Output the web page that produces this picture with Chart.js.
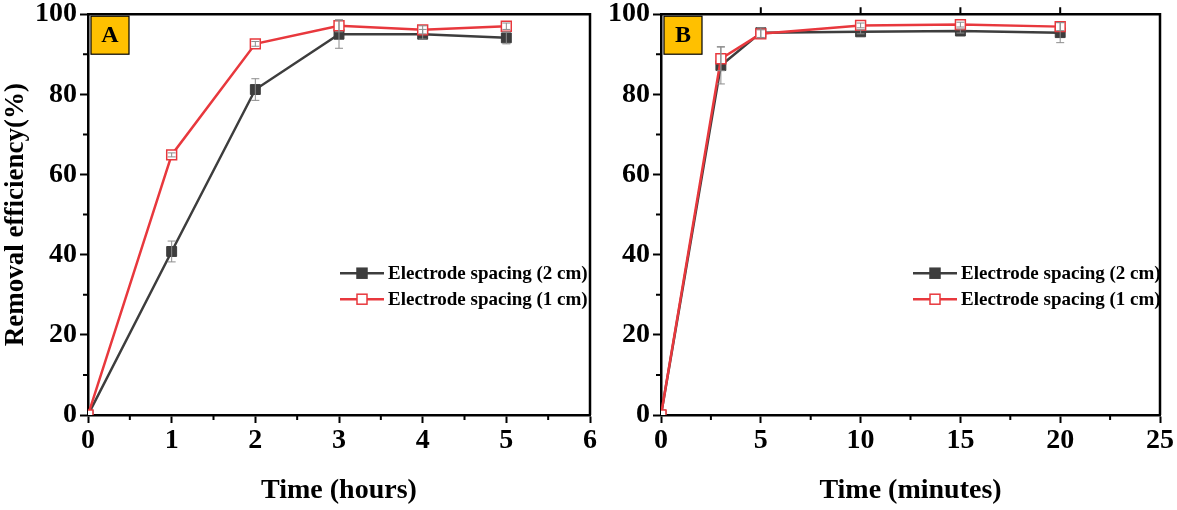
<!DOCTYPE html>
<html>
<head>
<meta charset="utf-8">
<script src="https://cdn.jsdelivr.net/npm/chart.js@4.4.0/dist/chart.umd.min.js"></script>
<style>
  html, body { margin: 0; padding: 0; background: #fff; }
  #wrap { position: relative; width: 1177px; height: 510px; overflow: hidden; }
  .panel { position: absolute; top: 0; height: 510px; }
</style>
</head>
<body>
<div id="wrap">
  <div class="panel" style="left:0;width:604px"><canvas id="chartA"></canvas></div>
  <div class="panel" style="left:592px;width:589px"><canvas id="chartB"></canvas></div>
</div>
<script>
// Panel A: time in hours
const hoursA = [0, 1, 2, 3, 4, 5];
const spacing2cmA = [0, 40.8, 81.2, 95.0, 95.0, 94.1];
const spacing2cmErrA = [0, 2.6, 2.7, 3.5, 1.2, 1.5];
const spacing1cmA = [0, 64.9, 92.6, 97.1, 96.1, 97.0];
const spacing1cmErrA = [0, 0.5, 0.6, 1.5, 1.0, 0.8];

// Panel B: time in minutes
const minutesB = [0, 3, 5, 10, 15, 20];
const spacing2cmB = [0, 87.2, 95.4, 95.6, 95.8, 95.4];
const spacing2cmErrB = [0, 4.6, 1.2, 0.5, 0.5, 2.5];
const spacing1cmB = [0, 88.9, 95.1, 97.2, 97.4, 96.9];
const spacing1cmErrB = [0, 3.0, 1.0, 0.6, 0.6, 1.0];

const seriesLabels = ["Electrode spacing (2 cm)", "Electrode spacing (1 cm)"];
const yTicks = [0, 20, 40, 60, 80, 100];
const yMinorTicks = [10, 30, 50, 70, 90];

const DARK = "#3d3d3d";
const RED = "#e8383d";
const SERIF = "'Liberation Serif', 'DejaVu Serif', serif";

function toPoints(xs, ys) {
  return xs.map((x, i) => ({ x: x, y: ys[i] }));
}

// frame, minor ticks, panel letter, legend and error bars
const panelDecor = {
  id: "panelDecor",
  afterDatasetsDraw(chart, args, opts) {
    const ctx = chart.ctx;
    const xs = chart.scales.x;
    ctx.save();
    ctx.strokeStyle = "#8c8c8c";
    ctx.lineWidth = 1;
    chart.data.datasets.forEach((ds) => {
      ds.data.forEach((p, i) => {
        const e = ds.errors[i];
        if (!e) return;
        const px = xs.getPixelForValue(p.x);
        const y1 = chart.scales.y.getPixelForValue(p.y + e);
        const y2 = chart.scales.y.getPixelForValue(p.y - e);
        ctx.beginPath();
        ctx.moveTo(px, y1); ctx.lineTo(px, y2);
        ctx.moveTo(px - 4, y1); ctx.lineTo(px + 4, y1);
        ctx.moveTo(px - 4, y2); ctx.lineTo(px + 4, y2);
        ctx.stroke();
      });
    });
    ctx.restore();
  },
  afterDraw(chart, args, opts) {
    const ctx = chart.ctx;
    const a = chart.chartArea;
    const xs = chart.scales.x;
    const ys = chart.scales.y;
    ctx.save();
    ctx.strokeStyle = "#000";
    ctx.lineWidth = 2.5;
    ctx.beginPath();
    ctx.moveTo(a.left, a.top); ctx.lineTo(a.right, a.top); ctx.lineTo(a.right, a.bottom);
    ctx.stroke();

    // minor ticks
    ctx.lineWidth = 2;
    ctx.beginPath();
    opts.xMinor.forEach((v) => {
      const px = xs.getPixelForValue(v);
      ctx.moveTo(px, a.bottom); ctx.lineTo(px, a.bottom + 5);
    });
    yMinorTicks.forEach((v) => {
      const py = ys.getPixelForValue(v);
      ctx.moveTo(a.left, py); ctx.lineTo(a.left - 5, py);
    });
    (opts.topTicks || []).forEach((v) => {
      const px = xs.getPixelForValue(v);
      ctx.moveTo(px, a.top); ctx.lineTo(px, a.top - 7);
    });
    ctx.stroke();

    // panel letter
    ctx.fillStyle = "#ffc000";
    ctx.fillRect(a.left + 3, a.top + 2, 38, 38);
    ctx.lineWidth = 1.2;
    ctx.strokeRect(a.left + 3, a.top + 2, 38, 38);
    ctx.fillStyle = "#000";
    ctx.font = "bold 24px " + SERIF;
    ctx.textAlign = "center";
    ctx.textBaseline = "middle";
    ctx.fillText(opts.letter, a.left + 22, a.top + 22);

    // legend
    ctx.font = "bold 19px " + SERIF;
    ctx.textAlign = "left";
    chart.data.datasets.forEach((ds, i) => {
      const lx = a.left + 252;
      const ly = a.top + 259 + i * 26;
      ctx.strokeStyle = ds.borderColor;
      ctx.lineWidth = 2.5;
      ctx.beginPath();
      ctx.moveTo(lx, ly); ctx.lineTo(lx + 44, ly);
      ctx.stroke();
      ctx.fillStyle = ds.pointBackgroundColor;
      ctx.fillRect(lx + 17, ly - 5, 10, 10);
      ctx.lineWidth = 1.5;
      ctx.strokeRect(lx + 17, ly - 5, 10, 10);
      ctx.fillStyle = "#000";
      ctx.fillText(seriesLabels[i], lx + 48, ly + 1);
    });
    ctx.restore();
  },
};

function makePanel(canvasId, opts) {
  const ctx = document.getElementById(canvasId);
  return new Chart(ctx, {
    type: "line",
    data: {
      datasets: [
        {
          label: seriesLabels[0],
          data: toPoints(opts.xs, opts.s2),
          errors: opts.e2,
          borderColor: DARK,
          pointBackgroundColor: DARK,
          pointBorderColor: DARK,
          borderWidth: 2.5,
          pointStyle: "rect",
          pointRadius: 7,
          pointBorderWidth: 1,
          order: 2,
        },
        {
          label: seriesLabels[1],
          data: toPoints(opts.xs, opts.s1),
          errors: opts.e1,
          borderColor: RED,
          pointBackgroundColor: "#fff",
          pointBorderColor: RED,
          borderWidth: 2.5,
          pointStyle: "rect",
          pointRadius: 7,
          pointBorderWidth: 1.5,
          order: 1,
        },
      ],
    },
    options: {
      responsive: true,
      maintainAspectRatio: false,
      animation: false,
      layout: { padding: { top: 13, right: opts.padRight, left: 0, bottom: 0 } },
      plugins: {
        legend: { display: false },
        tooltip: { enabled: false },
        panelDecor: { letter: opts.letter, xMinor: opts.xMinor, topTicks: opts.topTicks },
      },
      scales: {
        x: {
          type: "linear",
          min: 0,
          max: opts.xMax,
          afterBuildTicks: (s) => { s.ticks = opts.xTicks.map((v) => ({ value: v })); },
          afterFit: (s) => { s.height = 95; },
          ticks: { color: "#000", padding: 7, font: { family: SERIF, size: 28, weight: "bold", lineHeight: 0.8 } },
          grid: { drawOnChartArea: false, drawTicks: true, tickLength: 8, tickWidth: 2, tickColor: "#000" },
          border: { color: "#000", width: 2.5 },
          title: {
            display: true,
            text: opts.xTitle,
            color: "#000",
            padding: { top: 0, bottom: 2 },
            font: { family: SERIF, size: 28, weight: "bold" },
          },
        },
        y: {
          min: 0,
          max: 100,
          afterBuildTicks: (s) => { s.ticks = yTicks.map((v) => ({ value: v })); },
          afterFit: (s) => { s.width = opts.yWidth; },
          ticks: { color: "#000", padding: 3, font: { family: SERIF, size: 28, weight: "bold", lineHeight: 0.8 } },
          grid: { drawOnChartArea: false, drawTicks: true, tickLength: 8, tickWidth: 2, tickColor: "#000" },
          border: { color: "#000", width: 2.5 },
          title: {
            display: !!opts.yTitle,
            text: opts.yTitle || "",
            color: "#000",
            padding: { top: 0, bottom: 0 },
            font: { family: SERIF, size: 27, weight: "bold" },
          },
        },
      },
    },
    plugins: [panelDecor],
  });
}

makePanel("chartA", {
  letter: "A",
  xs: hoursA, s2: spacing2cmA, e2: spacing2cmErrA, s1: spacing1cmA, e1: spacing1cmErrA,
  xMax: 6,
  xTicks: [0, 1, 2, 3, 4, 5, 6],
  xMinor: [0.5, 1.5, 2.5, 3.5, 4.5, 5.5],
  xTitle: "Time (hours)",
  yTitle: "Removal efficiency(%)",
  yWidth: 88,
  padRight: 0,
});

makePanel("chartB", {
  letter: "B",
  xs: minutesB, s2: spacing2cmB, e2: spacing2cmErrB, s1: spacing1cmB, e1: spacing1cmErrB,
  xMax: 25,
  xTicks: [0, 5, 10, 15, 20, 25],
  xMinor: [2.5, 7.5, 12.5, 17.5, 22.5],
  topTicks: [5, 10, 15, 20],
  xTitle: "Time (minutes)",
  yTitle: "",
  yWidth: 69,
  padRight: 0,
});
</script>
</body>
</html>
